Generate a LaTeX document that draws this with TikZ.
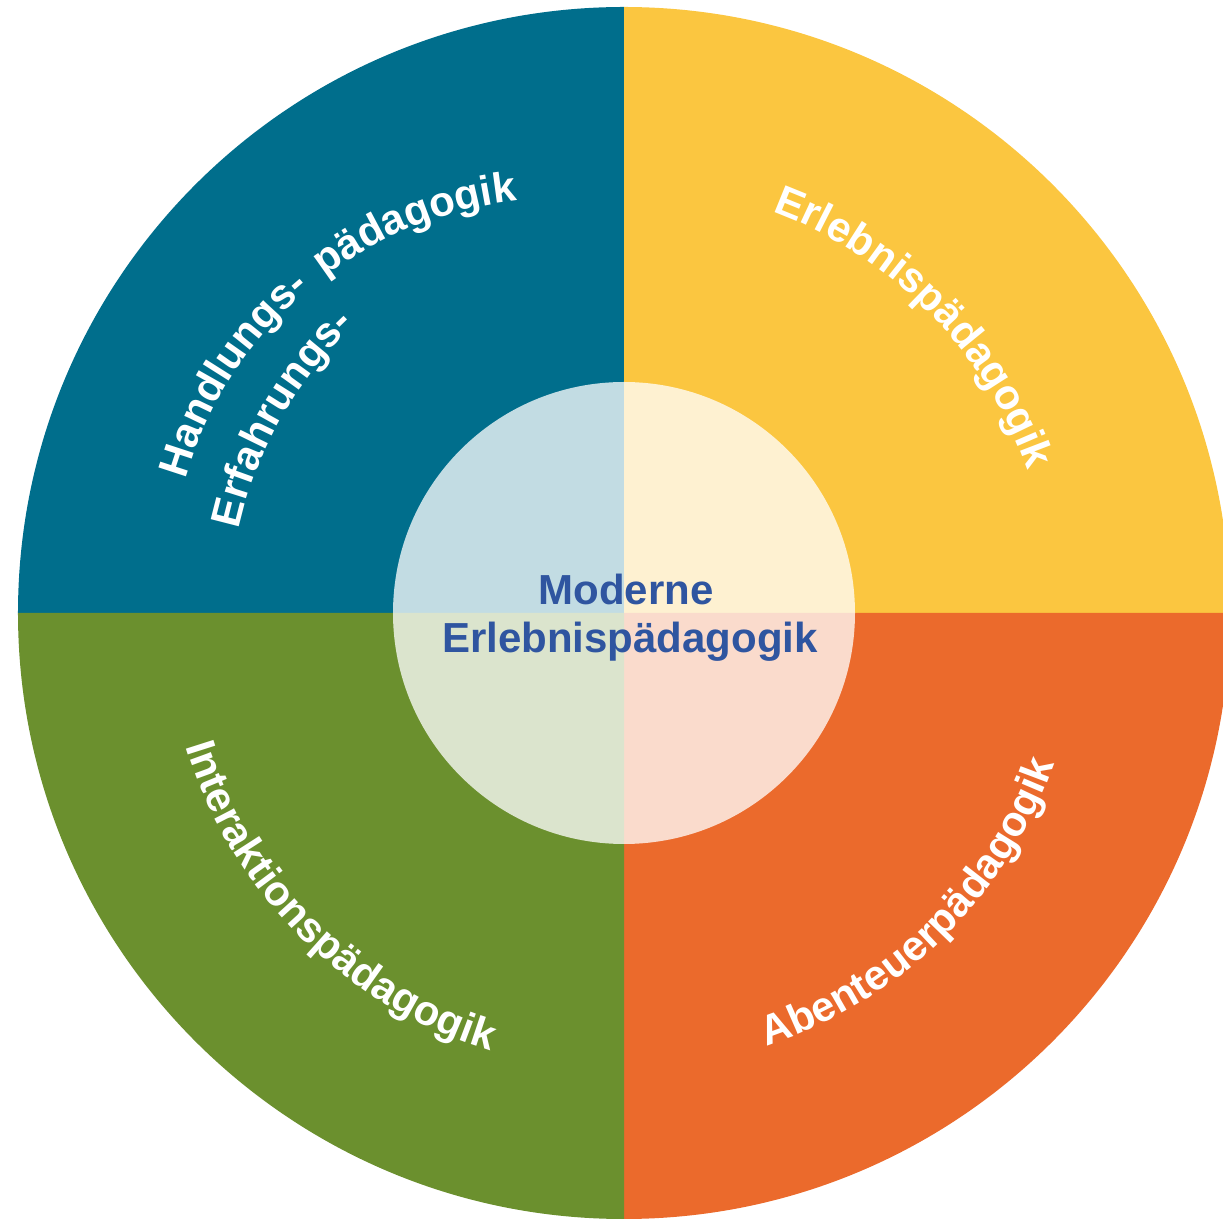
\documentclass[tikz,border=0pt]{standalone}
\usepackage{fontspec}
\setmainfont{Liberation Sans}
\usetikzlibrary{decorations.text}
\definecolor{qblue}{RGB}{0,110,140}
\definecolor{qyellow}{RGB}{251,198,64}
\definecolor{qgreen}{RGB}{107,144,46}
\definecolor{qorange}{RGB}{235,106,44}
\definecolor{ctext}{RGB}{47,85,160}
\newcommand\lblfont{\bfseries\fontsize{31.5}{36}\selectfont}
\begin{document}
\begin{tikzpicture}[x=0.75pt,y=0.75pt,
  centertext/.style={font=\bfseries\fontsize{31.5}{36}\selectfont, text=ctext, inner sep=0pt, anchor=base},
  arclabel/.style={decorate, decoration={text along path, text align=center, text color=white, text={|\lblfont|#1}}}
]
\useasboundingbox (-624,-606) rectangle (599,613);
\clip (-624,-606) rectangle (599,613);
% quadrants
\fill[qblue]   (0,0) -- (180:606) arc[start angle=180,end angle=90,radius=606] -- cycle;
\fill[qyellow] (0,0) -- (90:606)  arc[start angle=90,end angle=0,radius=606] -- cycle;
\fill[qorange] (0,0) -- (0:606)   arc[start angle=0,end angle=-90,radius=606] -- cycle;
\fill[qgreen]  (0,0) -- (-90:606) arc[start angle=-90,end angle=-180,radius=606] -- cycle;
% inner circle
\fill[white,opacity=0.76] (0,0) circle[radius=231];
% centre text
\node[centertext] (mod) at (2,8) {Moderne};
\node[centertext] (erl) at (6,-40) {Erlebnispädagogik};
% curved labels
\path[arclabel={Erlebnispädagogik}] (84.6:428) arc[start angle=84.6,end angle=4.6,radius=428];
\path[arclabel={Erfahrungs-}] (190.4:394) arc[start angle=190.4,end angle=110.4,radius=394];
\begin{scope}[shift={(-67,28)}]
\path[arclabel={Handlungs-}] (177:386) arc[start angle=177,end angle=117,radius=386];
\path[arclabel={pädagogik}] (151.5:386) arc[start angle=151.5,end angle=71.5,radius=386];
\end{scope}
\path[arclabel={Interaktionspädagogik}] (185:458) arc[start angle=185,end angle=265,radius=458];
\path[arclabel={Abenteuerpädagogik}] (274.5:456) arc[start angle=274.5,end angle=354.5,radius=456];
\end{tikzpicture}
\end{document}
